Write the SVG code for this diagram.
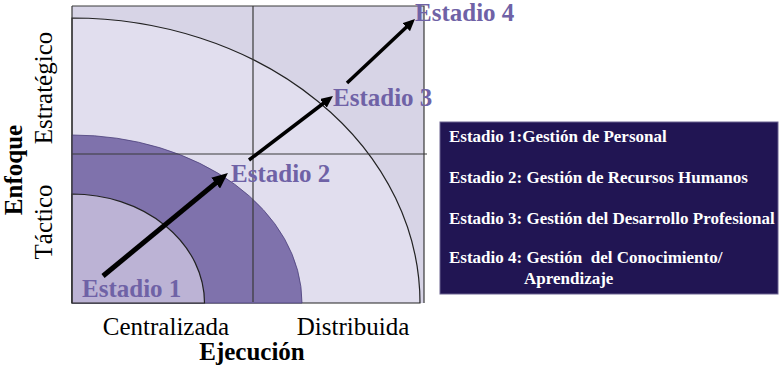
<svg xmlns="http://www.w3.org/2000/svg" width="784" height="370" viewBox="0 0 784 370">
<style>
.lbl{font-family:"Liberation Serif","Times New Roman",serif;font-size:25px;fill:#000}
.b{font-weight:bold}
.st{font-family:"Liberation Serif","Times New Roman",serif;font-size:25px;font-weight:bold;fill:#6F62A6}
.bx{font-family:"Liberation Serif","Times New Roman",serif;font-size:17px;font-weight:bold;fill:#fff;white-space:pre}
.grid{stroke:#3a3a3a;stroke-width:1.2;fill:none}
.arrow{stroke:#000;fill:none}
</style>
<defs>
<marker id="hb" markerUnits="userSpaceOnUse" markerWidth="16" markerHeight="14" refX="4" refY="7" orient="auto"><path d="M0,0 L16,7 L0,14 z" fill="#000"/></marker>
<marker id="hs" markerUnits="userSpaceOnUse" markerWidth="12" markerHeight="11" refX="3" refY="5.5" orient="auto"><path d="M0,0 L12,5.5 L0,11 z" fill="#000"/></marker>
</defs>
<g id="chart">
<rect x="72" y="6" width="352" height="297" fill="#D7D4E6"/>
<path d="M72,303 L72,18 A348,285 0 0 1 420,303 Z" fill="#E1DEEE" stroke="#222" stroke-width="1.2"/>
<path d="M72,303 L72,135 A230,168 0 0 1 302,303 Z" fill="#7F72AC" stroke="#4a3f7a" stroke-width="0.8"/>
<path d="M72,303 L72,194 A132.5,109 0 0 1 204.5,303 Z" fill="#BCB3D5" stroke="#222" stroke-width="1.2"/>
<path class="grid" d="M72,6 L424,6 L424,303 M72,6 L72,303"/>
<line class="grid" x1="72" y1="154" x2="427" y2="154"/>
<line class="grid" x1="253" y1="6" x2="253" y2="302"/>
</g>
<g id="connectors">
<line class="arrow" x1="103" y1="276" x2="218.7" y2="180.6" stroke-width="5" marker-end="url(#hb)"/>
<line class="arrow" x1="249" y1="160" x2="325.8" y2="101.5" stroke-width="3.5" marker-end="url(#hs)"/>
<line class="arrow" x1="347" y1="83" x2="408.4" y2="25.2" stroke-width="3.5" marker-end="url(#hs)"/>
</g>
<g id="estadio1"><text class="st" x="82" y="297">Estadio 1</text></g>
<g id="estadio2"><text class="st" x="231" y="182">Estadio 2</text></g>
<g id="estadio3"><text class="st" x="333" y="106">Estadio 3</text></g>
<g id="estadio4"><text class="st" x="415" y="21">Estadio 4</text></g>
<g id="axis-y">
<text class="lbl b" text-anchor="middle" transform="translate(22,170) rotate(-90)">Enfoque</text>
<text class="lbl" text-anchor="middle" transform="translate(52,88) rotate(-90)">Estratégico</text>
<text class="lbl" text-anchor="middle" transform="translate(52,222) rotate(-90)">Táctico</text>
</g>
<g id="axis-x">
<text class="lbl" text-anchor="middle" x="166" y="335">Centralizada</text>
<text class="lbl" text-anchor="middle" x="353" y="335">Distribuida</text>
<text class="lbl b" text-anchor="middle" x="252" y="360">Ejecución</text>
</g>
<g id="legend">
<rect x="440" y="122" width="338" height="172" fill="#211553" stroke="#6a6290" stroke-width="1"/>
<text class="bx" x="449" y="142">Estadio 1:Gestión de Personal</text>
<text class="bx" x="449" y="183">Estadio 2: Gestión de Recursos Humanos</text>
<text class="bx" x="449" y="224">Estadio 3: Gestión del Desarrollo Profesional</text>
<text class="bx" x="449" y="263" xml:space="preserve">Estadio 4: Gestión  del Conocimiento/</text>
<text class="bx" x="524" y="284">Aprendizaje</text>
</g>
</svg>
